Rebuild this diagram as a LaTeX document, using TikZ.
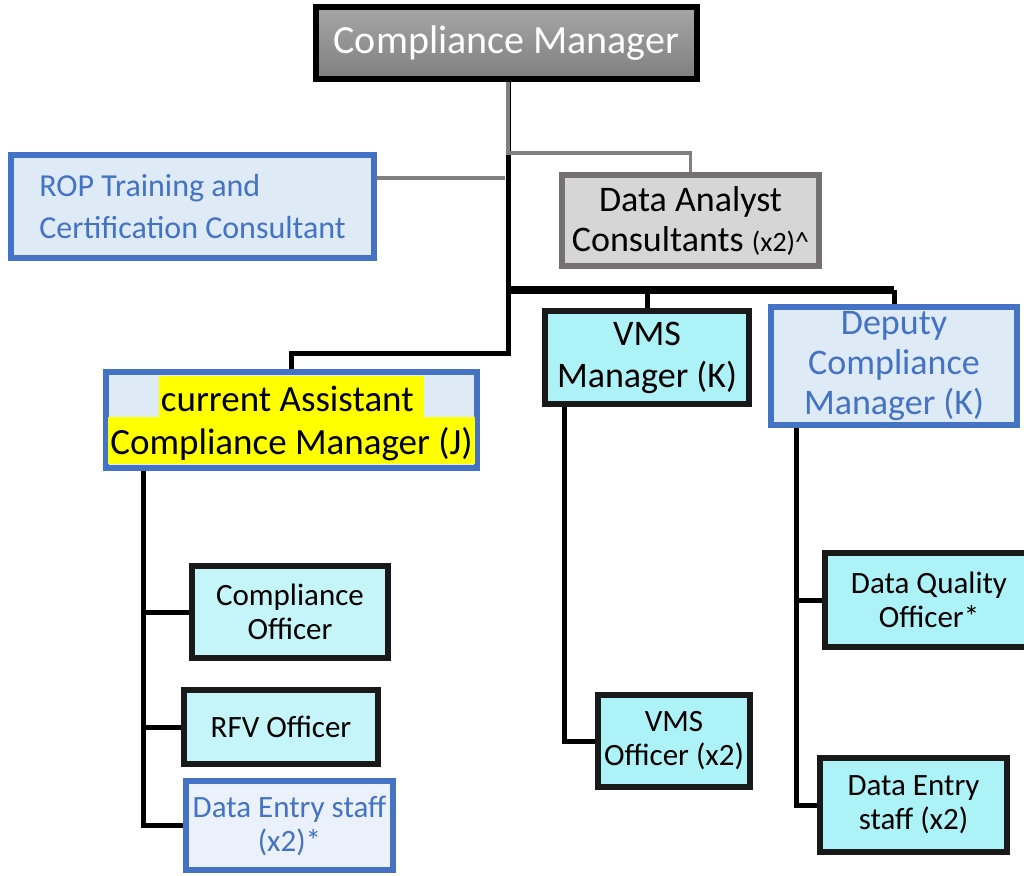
\documentclass[tikz,border=0pt]{standalone}
\usepackage{fontspec}
\setmainfont{Carlito}
\usetikzlibrary{backgrounds}
\definecolor{bluebd}{HTML}{4472C4}
\definecolor{bluefill}{HTML}{DEEAF6}
\definecolor{bluefillb}{HTML}{EAF1FA}
\definecolor{graybd}{HTML}{767171}
\definecolor{grayfill}{HTML}{D6D6D6}
\definecolor{cyanfill}{HTML}{ADF2F7}
\definecolor{cyanfillb}{HTML}{C5F5F9}
\definecolor{conngray}{HTML}{808080}
\definecolor{hlyellow}{HTML}{FFFF00}
\newcommand{\fs}[2]{\fontsize{#1}{#2}\selectfont}
\newcommand{\hlA}[1]{{\setlength{\fboxsep}{0pt}\colorbox{hlyellow}{\hspace{2pt}\rule[-6pt]{0pt}{41pt}#1\hspace{2pt}}}}
\newcommand{\hlB}[1]{{\setlength{\fboxsep}{0pt}\colorbox{hlyellow}{\hspace{2pt}\rule[-10pt]{0pt}{47pt}#1\hspace{2pt}}}}
\tikzset{
  boxbase/.style={rectangle, line width=6pt, inner sep=0pt, outer sep=0pt, align=center},
  darkbox/.style={boxbase, draw=black},
  bluebox/.style={boxbase, draw=bluebd, fill=bluefill, text=bluebd},
  cyanbox/.style={boxbase, draw=black!90, fill=cyanfill},
  small/.style={font=\fs{31}{34}},
  blk/.style={draw=black, line width=5pt},
  blkthick/.style={draw=black, line width=8pt},
  gry/.style={draw=conngray, line width=3.5pt},
}
\begin{document}
\begin{tikzpicture}[x=1pt,y=-1pt]
\useasboundingbox (0,0) rectangle (1024,875);
% nodes
\node[darkbox, top color=black!35, bottom color=black!50, text=white, font=\fs{40}{48}, minimum width=381pt, minimum height=72pt] (cm) at (506.5,43) {Compliance Manager};
\node[bluebox, align=left, font=\fs{32}{42}, minimum width=363pt, minimum height=103pt] (rop) at (192.5,206.5) {ROP Training and\\Certification Consultant};
\node[boxbase, draw=graybd, fill=grayfill, font=\fs{36}{40}, minimum width=257pt, minimum height=91pt] (da) at (690.5,220.5) {Data Analyst\\Consultants {\fs{28}{30}(x2)\^{}}};
\node[bluebox, text=black, font=\fs{37}{43}, minimum width=371pt, minimum height=96pt] (acm) at (291.5,420) {\hlA{current Assistant }\\\hlB{Compliance Manager (J)}};
\node[cyanbox, font=\fs{36}{42}, minimum width=204pt, minimum height=93pt] (vmsm) at (647,357.5) {VMS\\Manager (K)};
\node[bluebox, font=\fs{36}{40}, minimum width=246pt, minimum height=118pt] (dcm) at (894,366) {Deputy\\Compliance\\Manager (K)};
\node[cyanbox, small, fill=cyanfillb, minimum width=196pt, minimum height=92pt] (co) at (290,612) {Compliance\\Officer};
\node[cyanbox, small, fill=cyanfillb, minimum width=194pt, minimum height=74pt] (rfv) at (281,727) {RFV Officer};
\node[bluebox, small, fill=bluefillb, minimum width=207pt, minimum height=89pt] (des1) at (289.5,825.5) {Data Entry staff\\(x2)*};
\node[cyanbox, small, minimum width=152pt, minimum height=92pt] (vmso) at (674,741) {VMS\\Officer (x2)};
\node[cyanbox, small, minimum width=208pt, minimum height=94pt] (dqo) at (929,600) {Data Quality\\Officer*};
\node[cyanbox, small, minimum width=187pt, minimum height=94pt] (des2) at (913.5,805) {Data Entry\\staff (x2)};
% junction coordinates
\coordinate (t1) at (508,153);
\coordinate (t2) at (508,290);
\coordinate (t3) at (508,353);
\coordinate (r1) at (505,178);
\coordinate (ax) at (143,0);
\coordinate (vx) at (564,0);
\coordinate (dx) at (796,0);
\begin{pgfonlayer}{background}
\draw[blk] (cm.south -| t1) -- (t2);
\draw[gry] (cm.south -| t1) -- (t1) -| (da.north);
\draw[gry] (r1 -| rop.east) -- (r1);
\draw[blkthick] ([xshift=-2.5pt]t2) -- (t2 -| dcm.north);
\draw[blk] (t2 -| dcm.north) -- (dcm.north);
\draw[blk] (t2 -| vmsm.north) -- (vmsm.north);
\draw[blk] (t2) -- (t3) -| (acm.north);
\draw[blk] (acm.south -| ax) |- (des1.west);
\draw[blk] (co.west) -- (co.west -| ax);
\draw[blk] (rfv.west) -- (rfv.west -| ax);
\draw[blk] (vmsm.south -| vx) |- (vmso.west);
\draw[blk] (dcm.south -| dx) |- (des2.west);
\draw[blk] (dqo.west) -- (dqo.west -| dx);
\end{pgfonlayer}
\end{tikzpicture}
\end{document}
